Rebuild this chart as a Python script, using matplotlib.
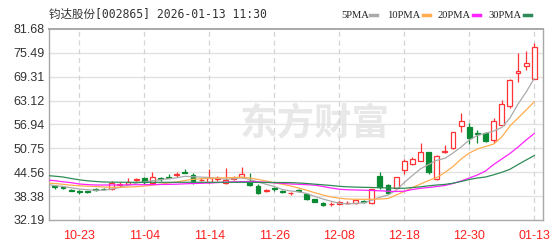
import matplotlib
matplotlib.use("Agg")
import matplotlib.pyplot as plt
from matplotlib.patches import Rectangle
from matplotlib.lines import Line2D

title = "钧达股份[002865] 2026-01-13 11:30"

dates = ["10-20", "10-21", "10-22", "10-23", "10-24", "10-27", "10-28", "10-29", "10-30", "10-31",
         "11-03", "11-04", "11-05", "11-06", "11-07", "11-10", "11-11", "11-12", "11-13", "11-14",
         "11-17", "11-18", "11-19", "11-20", "11-21", "11-24", "11-25", "11-26", "11-27", "11-28",
         "12-01", "12-02", "12-03", "12-04", "12-05", "12-08", "12-09", "12-10", "12-11", "12-12",
         "12-15", "12-16", "12-17", "12-18", "12-19", "12-22", "12-23", "12-24", "12-25", "12-26",
         "12-29", "12-30", "12-31", "01-05", "01-06", "01-07", "01-08", "01-09", "01-12", "01-13"]
tick_labels = ["10-23", "11-04", "11-14", "11-26", "12-08", "12-18", "12-30", "01-13"]

opens = [40.9, 40.8, 40.0, 39.6, 39.6, 40.1, 40.3, 40.15, 41.2, 41.6,
         42.6, 43.0, 41.7, 43.0, 43.3, 43.9, 44.5, 43.85, 42.5, 41.96,
         42.9, 41.9, 42.9, 43.26, 42.3, 40.99, 39.7, 40.45, 39.78, 39.2,
         39.9, 38.93, 37.56, 36.67, 36.25, 36.3, 36.6, 36.5, 37.1, 36.52,
         43.59, 41.26, 40.4, 45.15, 46.8, 47.6, 49.73, 42.81, 49.8, 50.93,
         56.55, 56.37, 54.8, 54.66, 52.92, 56.9, 61.6, 70.2, 72.2, 68.8]
highs = [40.95, 41.1, 40.2, 39.9, 39.8, 40.5, 40.6, 42.3, 42.0, 43.0,
         43.0, 43.3, 44.7, 43.3, 44.0, 44.5, 45.3, 44.3, 43.0, 45.33,
         43.6, 45.6, 43.6, 45.85, 44.3, 41.4, 40.2, 40.7, 39.9, 39.5,
         40.2, 39.2, 37.7, 36.8, 36.8, 37.2, 37.0, 37.6, 37.3, 40.3,
         44.5, 41.6, 43.4, 47.9, 48.4, 52.06, 49.9, 49.0, 51.6, 55.1,
         59.9, 57.3, 55.5, 55.0, 58.5, 63.2, 68.7, 75.38, 75.9, 78.1]
lows = [40.2, 40.2, 39.6, 38.9, 39.3, 39.8, 40.0, 40.0, 40.7, 41.4,
        42.4, 41.5, 41.5, 42.4, 43.1, 43.4, 44.3, 41.6, 42.2, 41.8,
        42.4, 41.6, 42.6, 43.1, 41.0, 39.0, 39.4, 39.8, 39.2, 38.6,
        39.5, 37.4, 36.8, 35.9, 35.9, 36.1, 36.3, 36.3, 36.6, 36.26,
        40.2, 38.9, 40.2, 44.1, 46.5, 47.4, 44.2, 42.56, 49.6, 50.7,
        55.0, 51.9, 52.2, 52.4, 52.1, 56.7, 61.3, 67.9, 71.06, 68.6]
closes = [40.8, 40.6, 39.7, 39.4, 39.45, 39.9, 40.1, 41.86, 41.4, 42.0,
          42.8, 41.96, 43.26, 42.8, 43.2, 44.1, 44.4, 42.17, 42.65, 43.0,
          42.95, 42.6, 43.1, 44.11, 41.25, 39.27, 39.85, 40.35, 39.37, 39.3,
          39.7, 37.63, 36.93, 36.08, 36.4, 36.9, 36.7, 37.4, 36.8, 40.15,
          40.82, 39.27, 43.26, 47.56, 48.1, 49.73, 44.55, 48.85, 49.95, 54.92,
          57.93, 53.52, 54.6, 52.66, 57.93, 62.25, 68.47, 70.8, 72.8, 77.1]

# moving averages as drawn, first value is the day before 10-20
ma5 = [41.39, 41.13, 40.87, 40.54, 40.22, 40.02, 39.89, 39.91, 40.22, 40.61,
       41.18, 41.70, 42.09, 42.35, 42.61, 42.87, 43.13, 43.52, 43.39, 43.31,
       43.20, 43.00, 42.74, 42.87, 43.13, 42.69, 42.04, 41.44, 40.87, 40.09,
       39.71, 39.50, 39.06, 38.28, 37.63, 37.04, 36.52, 36.34, 36.47, 36.65,
       37.30, 38.10, 38.67, 39.89, 41.91, 43.72, 45.46, 46.57, 47.66, 48.18,
       49.55, 51.11, 52.92, 54.09, 54.66, 55.25, 56.16, 58.62, 62.25, 65.36, 68.91]
ma10 = [41.78, 41.65, 41.44, 41.21, 41.05, 40.95, 40.87, 40.74, 40.66, 40.66,
        40.74, 40.82, 41.00, 41.21, 41.47, 41.78, 42.04, 42.43, 42.74, 42.89,
        43.00, 43.07, 43.13, 43.20, 43.28, 43.07, 42.69, 42.30, 41.83, 41.44,
        41.00, 40.48, 39.89, 39.24, 38.67, 38.15, 37.84, 37.63, 37.56, 37.56,
        37.56, 37.63, 37.76, 38.67, 39.58, 40.61, 41.52, 42.43, 43.20, 44.50,
        46.05, 48.00, 49.55, 50.59, 51.24, 51.88, 53.70, 56.55, 58.62, 60.69, 62.84]
ma20 = [42.56, 42.37, 42.09, 41.86, 41.52, 41.36, 41.26, 41.26, 41.26, 41.26,
        41.31, 41.34, 41.34, 41.36, 41.39, 41.42, 41.47, 41.57, 41.65, 41.70,
        41.78, 41.88, 41.99, 42.09, 42.14, 42.17, 42.09, 41.96, 41.83, 41.68,
        41.52, 41.44, 41.34, 41.21, 40.87, 40.48, 40.17, 40.02, 39.97, 39.91,
        39.84, 39.76, 39.65, 39.58, 39.65, 40.09, 40.41, 40.61, 40.87, 41.13,
        41.65, 42.30, 43.07, 43.85, 44.89, 46.57, 48.00, 49.42, 51.11, 52.92, 54.60]
ma30 = [43.72, 43.54, 43.33, 42.94, 42.61, 42.35, 42.17, 42.04, 42.00, 41.98,
        41.96, 41.96, 41.96, 41.96, 41.96, 41.96, 41.96, 41.96, 41.96, 41.96,
        41.96, 41.96, 41.96, 41.96, 41.96, 41.96, 41.93, 41.92, 41.90, 41.90,
        41.88, 41.78, 41.65, 41.47, 41.31, 41.13, 40.92, 40.79, 40.72, 40.66,
        40.61, 40.56, 40.48, 40.43, 40.41, 40.61, 40.79, 41.05, 41.26, 41.42,
        41.73, 42.17, 42.69, 43.07, 43.33, 43.90, 44.55, 45.33, 46.57, 47.74, 48.90]

yticks = [32.19, 38.38, 44.56, 50.75, 56.94, 63.12, 69.31, 75.49, 81.68]

red = "#ff3333"
green = "#0a8a32"
ma_styles = [("5PMA", ma5, "#aaaaaa"), ("10PMA", ma10, "#ffad4f"),
             ("20PMA", ma20, "#ff22ff"), ("30PMA", ma30, "#2e8b57")]

W, H = 554, 243
fig = plt.figure(figsize=(W / 100, H / 100), dpi=100)
ax = fig.add_axes([49 / W, 1 - 220 / H, (543 - 49) / W, (220 - 29) / H])

# watermark
ax.text(315 / W, 1 - 124 / H, "东方财富", transform=fig.transFigure, ha="center", va="center",
        fontsize=27, fontweight="bold", color="#e8e8e8", family=["Noto Sans CJK SC"], zorder=0.5)

n = len(closes)
w = 0.6
for i in range(n):
    o, h, l, c = opens[i], highs[i], lows[i], closes[i]
    up = c >= o
    col = red if up else green
    ax.vlines(i, l, h, color=col, lw=0.9, zorder=3)
    ax.add_patch(Rectangle((i - w / 2, min(o, c)), w, max(abs(c - o), 0.08),
                           facecolor="white" if up else col, edgecolor=col, lw=0.9, zorder=4))

xs = list(range(-1, n))
for name, vals, col in ma_styles:
    ax.plot(xs, vals, color=col, lw=0.9, zorder=5)

ax.set_xlim(-0.73, 60.07)
ax.set_ylim(yticks[0], yticks[-1])
ax.set_yticks(yticks)
ax.set_yticklabels(["%.2f" % v for v in yticks], fontsize=9, color="#333333", family="Liberation Sans")
ticks = [dates.index(t) for t in tick_labels]
ax.set_xticks(ticks)
ax.set_xticklabels(tick_labels, fontsize=9, color="#ff2020", family="Liberation Sans")
ax.tick_params(length=0, pad=3)
ax.tick_params(axis="x", pad=7)

for v in yticks[1:-1]:
    ax.axhline(v, color="#e2e2e2", lw=1, zorder=1)
for t in ticks:
    ax.axvline(t, color="#d4d4d4", lw=0.9, ls=(0, (4, 3)), zorder=1)
for s in ax.spines.values():
    s.set_color("#a8a8a8")
    s.set_linewidth(1)
ax.spines["top"].set_linewidth(1.4)

fig.text(49 / W, 1 - 14 / H, title, fontsize=8.3, color="#333333", va="center",
         family=["DejaVu Sans Mono", "Noto Sans CJK SC"])

# legend
leg_pos = [(341.7, 370), (387, 423), (438, 473), (488, 524)]
for (name, vals, col), (tx, dx) in zip(ma_styles, leg_pos):
    fig.text(tx / W, 1 - 16 / H, name, fontsize=7.6, va="center", color="#222222", family="Liberation Serif")
    fig.add_artist(Line2D([dx / W, (dx + 7) / W], [1 - 15.5 / H, 1 - 15.5 / H], color=col, lw=2.5))

fig.savefig("out.png", dpi=100)
